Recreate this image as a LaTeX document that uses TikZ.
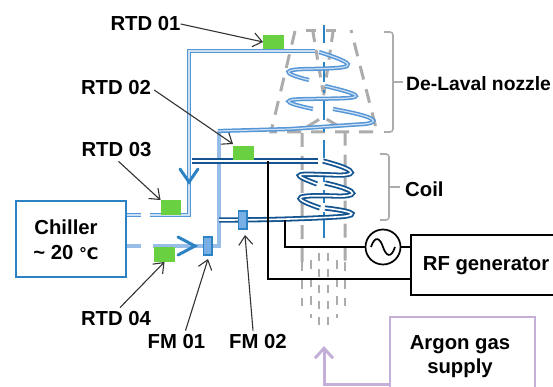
\documentclass[tikz,border=0pt]{standalone}
\usepackage{fontspec}
\setmainfont{Liberation Sans}
\usetikzlibrary{arrows.meta}
\definecolor{lpipe}{RGB}{85,150,215}
\definecolor{wpipe}{RGB}{150,190,232}
\definecolor{dpipe}{RGB}{20,85,145}
\definecolor{midb}{RGB}{45,130,195}
\definecolor{grn}{RGB}{105,208,65}
\definecolor{fmfill}{RGB}{120,175,230}
\definecolor{gdash}{RGB}{172,172,172}
\definecolor{purp}{RGB}{195,175,215}
\newfontfamily\symb{DejaVu Sans}
\tikzset{
  lab/.style={font=\fontsize{20.3}{23.5}\selectfont\bfseries,text=black,inner sep=0pt,align=center},
  rtdbox/.style={fill=grn,draw=none,minimum width=20.5pt,minimum height=14.5pt,inner sep=0pt},
  fmbox/.style={fill=fmfill,draw=midb,line width=1.5pt,minimum width=8.5pt,minimum height=18pt,inner sep=0pt},
  callout/.style={draw=black!80,line width=1.1pt,-{Straight Barb[length=9pt,width=14pt,line width=1.1pt]}},
  lightpipe/.style={draw=lpipe,line width=1.5pt,double=white!70!lpipe,double distance=1.2pt},
  widepipe/.style={draw=wpipe,line width=4pt},
  darkpipe/.style={draw=dpipe,line width=1.8pt,double=white,double distance=1.6pt},
  gd/.style={draw=gdash,line width=3pt,dash pattern=on 14pt off 10pt},
  gds/.style={draw=gdash,line width=2.8pt,dash pattern=on 9pt off 9pt},
  brace/.style={draw=gdash,line width=1.6pt,rounded corners=3pt},
  axis/.style={draw=midb,line width=2pt},
  flow/.style={draw=midb,line width=3pt},
  wire/.style={draw=black,line width=1.7pt},
  boxk/.style={draw=black,line width=1.7pt,fill=white}
}
\begin{document}
\begin{tikzpicture}[x=1pt,y=-1pt]
\useasboundingbox (0,0) rectangle (553,387);
\clip (0,0) rectangle (553,387);
% coordinates
\coordinate (cwB) at (150,215);
\coordinate (cwC) at (189,215);
\coordinate (cwD) at (189,51);
\coordinate (cwE) at (315,51);
\coordinate (fmJ) at (219,246);
\coordinate (fmK) at (219,131);
\coordinate (pipeL) at (153,246);
% gray nozzle
\draw[gd] (295,31) -- (271,132) -- (377,132) -- (351,30);
\draw[gd,dash pattern=on 10pt off 10pt] (306,31) -- (339,31);
\draw[gd,dash pattern=on 10pt off 8pt] (313,32) -- (323,92);
\draw[gd,dash pattern=on 10pt off 8pt] (333,32) -- (323,100);
\draw[gd,dash pattern=on 14pt off 9pt] (302,262) -- (302,130) -- (323,117) -- (345,130) -- (345,262);
\draw[gds] (302,262) -- (302,306);
\draw[gds] (345,262) -- (345,306);
\draw[gds] (311,260) -- (311,318);
\draw[gds] (337,260) -- (337,318);
\draw[gds,dash pattern=on 8pt off 8pt] (319,253) -- (319,328);
\draw[gds,dash pattern=on 8pt off 8pt] (328,253) -- (328,328);
% axis
\foreach \a/\b in {25/43,62/82,90/93,100/120,125/132,140/158,173/182,190/203,212/238}
  \draw[axis] (323.5,\a) -- (323.5,\b);
% light pipes
\draw[lightpipe] (126,215) -- (141,215);
\draw[lightpipe] (cwB) -- (cwC) -- (cwD) -- (cwE);
\draw[widepipe] (126,246) -- (141,246);
\draw[widepipe] (pipeL) -- (fmJ) -- (fmK);
\draw[lightpipe] (218,131) -- (290,129) -- (365,124) .. controls (380,122) and (378,117) .. (333,109);
\draw[lightpipe] (313,109) .. controls (280,102) and (282,99) .. (310,99) .. controls (345,98) and (385,100) .. (325,86);
\draw[lightpipe] (309,80) .. controls (280,73) and (283,69) .. (310,69) .. controls (345,68) and (370,68) .. (319,52);
% coil
\draw[darkpipe] (192,161) -- (318,161);
\draw[darkpipe] (323,161) .. controls (365,172) and (352,176) .. (335,175) .. controls (300,174) and (285,172) .. (317,184);
\draw[darkpipe] (325,183) .. controls (365,192) and (355,197) .. (335,196) .. controls (300,195) and (285,196) .. (320,208);
\draw[darkpipe] (325,208) .. controls (360,212) and (358,216) .. (335,217) .. controls (300,219) and (260,220) .. (219,220);
% flow chevrons
\draw[flow,line cap=round,line join=miter] (180,169) -- (189,182) -- (198,169);
\draw[flow,line cap=round,line join=miter] (178,237) -- (195,246) -- (178,255);
% chiller
\node[draw=midb,line width=1.8pt,fill=white,minimum width=110pt,minimum height=76pt,inner sep=0pt] (chiller) at (71,239) {};
\node[lab] at (66,240) {Chiller\\[1pt]\textasciitilde{} 20 {\symb\fontsize{16}{20}\selectfont ℃}};
% sensors
\node[rtdbox] (g1) at (273.5,42) {};
\node[rtdbox] (g2) at (243.5,153) {};
\node[rtdbox] (g3) at (171,207.5) {};
\node[rtdbox] (g4) at (164.5,254.5) {};
\node[fmbox] (fm1) at (207.5,246) {};
\node[fmbox] (fm2) at (242.5,220) {};
% wires
\node[boxk,minimum width=160pt,minimum height=60pt,inner sep=0pt] (rf) at (491,265) {};
\node[lab] at (486,266) {RF generator};
\node[draw=black,line width=1.7pt,circle,minimum size=35pt,inner sep=0pt,fill=white] (ac) at (383,247) {};
\draw[line width=1.7pt] (371,247) .. controls (375,235) and (380,238) .. (383,247) .. controls (386,256) and (391,259) .. (395,247);
\coordinate (w1) at (268,161);
\coordinate (w2) at (285,220);
\draw[wire] (w1) -- (268,279) -- (rf.west |- 0,279);
\draw[wire] (w2) -- (285,247) -- (ac.west);
\draw[wire] (ac.east) -- (rf.west |- ac.east);
% braces
\draw[brace] (384,32) -- (393,32) -- (393,132) -- (384,132);
\draw[brace,rounded corners=0pt] (393,82) -- (403,82);
\draw[brace] (380,154) -- (389,154) -- (389,220) -- (380,220);
\draw[brace,rounded corners=0pt] (389,187) -- (400,187);
% labels
\node[lab,anchor=west,font=\fontsize{19.3}{23}\selectfont\bfseries] at (406,84) {De-Laval nozzle};
\node[lab,anchor=west] at (405,189) {Coil};
\node[lab] (r1) at (145.5,24) {RTD 01};
\node[lab] (r2) at (116,88) {RTD 02};
\node[lab] (r3) at (116.5,150) {RTD 03};
\node[lab] (r4) at (116,319) {RTD 04};
\node[lab] (f1) at (176.5,342) {FM 01};
\node[lab] (f2) at (258,342) {FM 02};
% callouts
\draw[callout] (r1.east) -- (g1.west);
\draw[callout] (r2.east) ++(3,2) -- (233,144);
\draw[callout] (r3.south) ++(2,4) -- (g3.north west);
\draw[callout] (r4.north) ++(4,-4) -- (g4.south);
\draw[callout] (f1.north) ++(9,-4) -- (208,259);
\draw[callout] (f2.north) ++(-5,-4) -- (245,235);
% argon
\node[draw=purp,line width=2pt,fill=white,minimum width=145pt,minimum height=90pt,inner sep=0pt] (ar) at (462.5,362) {};
\node[lab] at (460,356.5) {Argon gas\\[1pt]supply};
\draw[draw=purp,line width=3pt,-{Straight Barb[length=10pt,width=18pt,line width=3pt]}] (ar.west |- 0,384) -- (324,384) -- (324,346);
\end{tikzpicture}
\end{document}
